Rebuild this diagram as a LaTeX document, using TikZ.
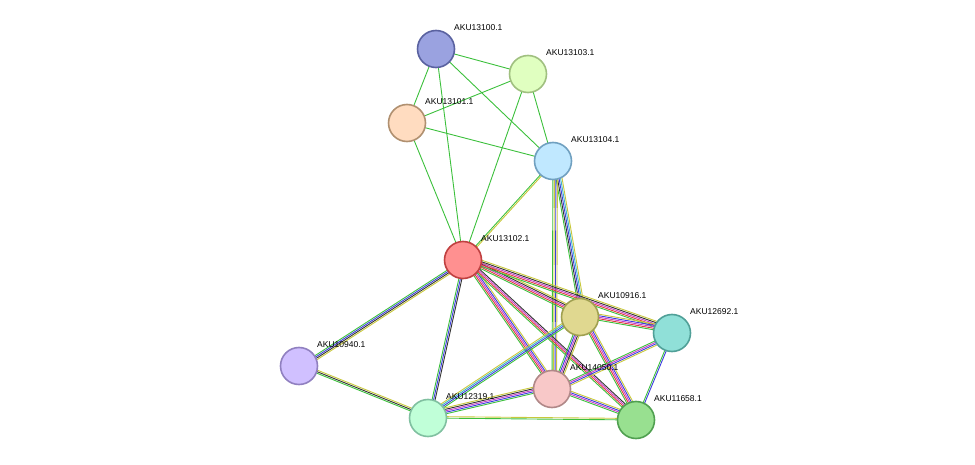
\documentclass[tikz,border=0pt]{standalone}
\usepackage{fontspec}
\setmainfont{Liberation Sans}
\usetikzlibrary{calc}
\definecolor{egreen}{HTML}{3CC03C}
\definecolor{eyellow}{HTML}{C8C83C}
\definecolor{eblue}{HTML}{3C3CE0}
\definecolor{ered}{HTML}{E03C3C}
\definecolor{emag}{HTML}{C83CC8}
\definecolor{edark}{HTML}{333333}
\definecolor{ecyan}{HTML}{3CB4C8}
\definecolor{f100}{HTML}{9AA2E0}\definecolor{d100}{HTML}{5A62A0}
\definecolor{f103}{HTML}{E0FFC0}\definecolor{d103}{HTML}{A0C080}
\definecolor{f101}{HTML}{FFDCC0}\definecolor{d101}{HTML}{B09070}
\definecolor{f104}{HTML}{C0E8FF}\definecolor{d104}{HTML}{70A0C0}
\definecolor{f102}{HTML}{FF9090}\definecolor{d102}{HTML}{C04040}
\definecolor{f916}{HTML}{E0D890}\definecolor{d916}{HTML}{A0A050}
\definecolor{f692}{HTML}{90E0D8}\definecolor{d692}{HTML}{50A098}
\definecolor{f940}{HTML}{D0C0FF}\definecolor{d940}{HTML}{9080C0}
\definecolor{f050}{HTML}{F8C8C8}\definecolor{d050}{HTML}{B08888}
\definecolor{f319}{HTML}{C0FFD8}\definecolor{d319}{HTML}{80C0A0}
\definecolor{f658}{HTML}{98E090}\definecolor{d658}{HTML}{50A050}
\tikzset{
  prot/.style={circle,minimum size=37pt,inner sep=0pt,line width=1.6pt,fill=f#1,draw=d#1},
  lbl/.style={anchor=west,inner sep=0pt,font=\fontsize{8.5}{10}\selectfont},
  edge/.style={line width=0.9pt}
}
% \medge{a}{b}{colours}: parallel lines between two proteins
\newcommand{\medge}[3]{%
  \foreach \ec [count=\ei] in {#3}{%
    \pgfmathsetmacro{\eoff}{(\ei-1)*1.5}
    \draw[edge,\ec] ($(#1)!\eoff pt!90:(#2)$) -- ($(#2)!\eoff pt!-90:(#1)$);}}
\begin{document}
\begin{tikzpicture}[x=1pt,y=-1pt]
\useasboundingbox (0,0) rectangle (975,465);
\coordinate (k100) at (436,49);
\coordinate (k103) at (528,74);
\coordinate (k101) at (407,123);
\coordinate (k104) at (553,161);
\coordinate (k102) at (463,260);
\coordinate (k916) at (580,317);
\coordinate (k692) at (672,333);
\coordinate (k940) at (299,366);
\coordinate (k050) at (552,389);
\coordinate (k319) at (428,418);
\coordinate (k658) at (636,420);
% edges
\medge{k100}{k103}{egreen}
\medge{k100}{k101}{egreen}
\medge{k100}{k104}{egreen}
\medge{k100}{k102}{egreen}
\medge{k103}{k101}{egreen}
\medge{k103}{k104}{egreen}
\medge{k103}{k102}{egreen}
\medge{k101}{k104}{egreen}
\medge{k101}{k102}{egreen}
\medge{k104}{k102}{egreen,eyellow}
\medge{k104}{k916}{egreen,edark,eblue,ecyan,eyellow}
\medge{k104}{k050}{egreen,eyellow,eblue,eyellow}
\medge{k102}{k916}{egreen,ered,emag,edark,eyellow}
\medge{k102}{k692}{egreen,ered,emag,edark,eyellow}
\medge{k102}{k050}{egreen,ered,emag,eblue,eyellow}
\medge{k102}{k658}{egreen,ered,emag,edark}
\medge{k102}{k319}{egreen,eblue,edark}
\medge{k102}{k940}{egreen,eblue,edark,eyellow}
\medge{k940}{k319}{egreen,edark,eyellow}
\medge{k319}{k050}{egreen,eblue,emag,edark,eyellow}
\medge{k319}{k916}{egreen,eblue,ecyan,eyellow}
\medge{k319}{k658}{egreen,eyellow}
\medge{k916}{k692}{egreen,ered,emag,eblue,eyellow}
\medge{k916}{k050}{egreen,eblue,emag,edark,eyellow}
\medge{k916}{k658}{egreen,ered,emag,eblue,eyellow}
\medge{k692}{k050}{egreen,emag,eblue,eyellow}
\medge{k692}{k658}{egreen,eblue}
\medge{k050}{k658}{egreen,emag,eblue,eyellow}
% proteins
\foreach \n in {100,103,101,104,102,916,692,940,050,319,658}
  \node[prot=\n] (n\n) at (k\n) {};
% labels
\foreach \n/\t in {100/AKU13100.1,103/AKU13103.1,101/AKU13101.1,104/AKU13104.1,102/AKU13102.1,916/AKU10916.1,692/AKU12692.1,940/AKU10940.1,050/AKU14050.1,319/AKU12319.1,658/AKU11658.1}
  \node[lbl] (t\n) at ($(n\n.center)+(18,-21)$) {\t};
\end{tikzpicture}
\end{document}
